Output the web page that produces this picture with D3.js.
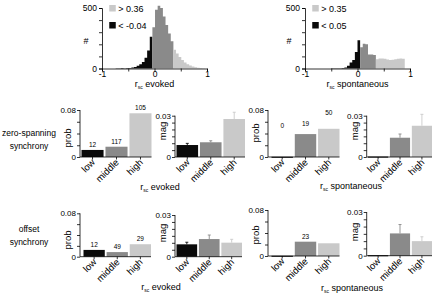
<!DOCTYPE html>
<html>
<head>
<meta charset="utf-8">
<script src="https://cdn.jsdelivr.net/npm/d3@7"></script>
<style>
  body { margin: 0; background: #fff; }
  svg { display: block; font-family: "Liberation Sans", Arial, sans-serif; }
</style>
</head>
<body>
<svg id="chart" width="435" height="297"></svg>
<script>
// ---- histogram data (bin left edges, width 0.05) ----
const binWidth = 0.05;
const evokedEdges = [-0.89,-0.84,-0.79,-0.74,-0.69,-0.64,-0.59,-0.54,-0.49,-0.44,-0.39,-0.34,-0.29,-0.24,-0.19,-0.14,-0.09,
  -0.04,0.01,0.06,0.11,0.16,0.21,0.26,0.31,
  0.36,0.41,0.46,0.51,0.56,0.61,0.66,0.71,0.76,0.81,0.86,0.91];
const evokedCounts = [0,0,1,2,3,4,3,4,5,8,13,22,35,54,89,149,262,
  340,485,518,500,430,360,290,225,
  155,125,95,70,50,35,25,16,11,7,4,2];
const evokedCuts = [-0.04, 0.36];

const spontEdges = [-0.95,-0.9,-0.85,-0.8,-0.75,-0.7,-0.65,-0.6,-0.55,-0.5,-0.45,-0.4,-0.35,-0.3,-0.25,-0.2,-0.15,-0.1,-0.05,0.0,
  0.05,0.1,0.15,0.2,0.25,0.3,
  0.35,0.4,0.45,0.5,0.55,0.6,0.65,0.7,0.75,0.8,0.85];
const spontCounts = [1,1,1,1,1,1,1,1,1,2,2,2,3,4,8,23,50,71,137,234,
  175,205,200,115,115,112,
  76,82,82,80,75,70,72,76,80,82,80];
const spontCuts = [0.05, 0.35];

// ---- bar data ----
const groups = ["low", "middle", "high"];

const zeroProbEvoked = [0.012, 0.0175, 0.0744];
const zeroProbEvokedN = ["12", "117", "105"];
const zeroMagEvoked = [0.0087, 0.0107, 0.0276];
const zeroMagEvokedErr = [0.0012, 0.0011, 0.0049];
const zeroProbSpont = [0.0004, 0.039, 0.048];
const zeroProbSpontN = ["0", "19", "50"];
const zeroProbSpontNAt = [0.050, 0.053, 0.0715];
const zeroMagSpont = [0.0003, 0.014, 0.0227];
const zeroMagSpontErr = [0, 0.0027, 0.0083];

const offProbEvoked = [0.0125, 0.0085, 0.023];
const offProbEvokedN = ["12", "49", "29"];
const offMagEvoked = [0.0089, 0.0127, 0.0101];
const offMagEvokedErr = [0.0015, 0.0029, 0.0024];
const offProbSpont = [0.0004, 0.0249, 0.0221];
const offProbSpontN = ["", "23", ""];
const offMagSpont = [0.0003, 0.0153, 0.010];
const offMagSpontErr = [0, 0.0061, 0.003];

const cBlack = "#0a0a0a", cMid = "#8a8a8a", cLight = "#c9c9c9";
const barColors = [cBlack, cMid, cLight];

const svg = d3.select("#chart");

// ---------- histograms ----------
function drawHist(edges, counts, cuts, x0, x1, legend, label) {
  const x = d3.scaleLinear().domain([-1, 1]).range([x0, x1]);
  const y = d3.scaleLinear().domain([0, 500]).range([68.5, 8]);
  const g = svg.append("g");

  // split bins into the three colour classes, each drawn as one stepped area
  const cls = e => e < cuts[0] - 1e-9 ? 0 : (e < cuts[1] - 1e-9 ? 1 : 2);
  const area = d3.area().curve(d3.curveStepAfter)
    .x(d => x(d.e)).y0(y(0)).y1(d => y(d.c));
  [cBlack, cMid, cLight].forEach((col, k) => {
    const pts = [];
    edges.forEach((e, i) => { if (cls(e) == k) pts.push({e: e, c: counts[i]}); });
    if (!pts.length) return;
    pts.push({e: pts[pts.length - 1].e + binWidth, c: pts[pts.length - 1].c});
    g.append("path").attr("d", area(pts)).attr("fill", col);
  });

  const ya = g.append("g").attr("transform", "translate(" + x0 + ",0)")
    .call(d3.axisLeft(y).tickValues([0, 100, 200, 300, 400, 500]).tickSize(3)
      .tickFormat(d => (d == 0 || d == 500) ? d : ""));
  const xa = g.append("g").attr("transform", "translate(0," + y(0) + ")")
    .call(d3.axisBottom(x).tickValues([-1, -0.5, 0, 0.5, 1]).tickSize(3)
      .tickFormat(d => Number.isInteger(d) ? d : ""));
  [ya, xa].forEach(a => {
    a.select(".domain").attr("stroke", "#000").attr("stroke-width", 0.8);
    a.selectAll(".tick line").attr("stroke-width", 0.8);
    a.selectAll("text").attr("font-size", 8.5).attr("font-family", "Liberation Sans, Arial");
  });
  ya.selectAll("text").attr("x", -5);
  xa.selectAll("text").attr("y", 2.5);

  g.append("text").attr("x", x0 - 16).attr("y", 44).attr("font-size", 9).attr("text-anchor", "middle").text("#");

  // legend
  const lx = x(-0.9) + 2;
  legend.forEach((t, i) => {
    g.append("rect").attr("x", lx).attr("y", 5 + i * 17).attr("width", 6.5).attr("height", 6.5)
      .attr("fill", i == 0 ? cLight : cBlack);
    g.append("text").attr("x", lx + 9).attr("y", 12 + i * 17).attr("font-size", 9).text(t);
  });

  const t = g.append("text").attr("x", x(0)).attr("y", 87).attr("text-anchor", "middle").attr("font-size", 9);
  t.append("tspan").text("r");
  t.append("tspan").attr("font-size", 5).attr("dy", 2).text("sc");
  t.append("tspan").attr("dy", -2).text(" " + label);
}

drawHist(evokedEdges, evokedCounts, evokedCuts, 102, 207, ["> 0.36", "< -0.04"], "evoked");
drawHist(spontEdges, spontCounts, spontCuts, 305, 410, ["> 0.35", "< 0.05"], "spontaneous");

// ---------- bar panels ----------
function drawBars(p) {
  const g = svg.append("g");
  const x = d3.scaleBand().domain(groups).range([p.b0, p.b1]).paddingInner(0.08);
  const y = d3.scaleLinear().domain([0, p.max]).range([p.bottom, p.top]);

  g.selectAll("rect.bar").data(p.values).enter().append("rect")
    .attr("class", "bar")
    .attr("x", (d, i) => x(groups[i]))
    .attr("width", x.bandwidth())
    .attr("y", d => y(d))
    .attr("height", d => Math.max(1, y(0) - y(d)))
    .attr("fill", (d, i) => barColors[i]);

  if (p.err) {
    p.err.forEach((e, i) => {
      if (e <= 0) return;
      const cx = x(groups[i]) + x.bandwidth() / 2;
      g.append("line").attr("x1", cx).attr("x2", cx)
        .attr("y1", y(p.values[i])).attr("y2", y(p.values[i] + e))
        .attr("stroke", barColors[i]).attr("stroke-width", 0.9);
      g.append("line").attr("x1", cx - 1.5).attr("x2", cx + 1.5)
        .attr("y1", y(p.values[i] + e)).attr("y2", y(p.values[i] + e))
        .attr("stroke", barColors[i]).attr("stroke-width", 0.9);
    });
  }

  if (p.n) {
    p.n.forEach((t, i) => {
      const at = p.nAt ? y(p.nAt[i]) : y(p.values[i]) - 3;
      g.append("text").attr("x", x(groups[i]) + x.bandwidth() / 2).attr("y", at)
        .attr("text-anchor", "middle").attr("font-size", 6.5).attr("fill", "#000").text(t);
    });
  }

  const ya = g.append("g").attr("transform", "translate(" + p.ax + ",0)")
    .call(d3.axisLeft(y).tickValues(d3.range(0, p.max + p.step / 2, p.step)).tickSize(3)
      .tickFormat(d => (d == 0 || Math.abs(d - p.max) < 1e-9) ? (d == 0 ? "0" : p.maxLabel) : ""));
  ya.select(".domain").attr("stroke-width", 0.8).attr("d", "M0," + p.top + "V" + p.bottom);
  ya.selectAll(".tick line").attr("stroke-width", 0.8);
  ya.selectAll("text").attr("font-size", 8).attr("x", -4);

  g.append("line").attr("x1", p.ax).attr("x2", p.b1).attr("y1", p.bottom).attr("y2", p.bottom)
    .attr("stroke", "#000").attr("stroke-width", 0.8);
  groups.forEach(gr => {
    const cx = x(gr) + x.bandwidth() / 2;
    g.append("line").attr("x1", cx).attr("x2", cx).attr("y1", p.bottom).attr("y2", p.bottom + 2.5)
      .attr("stroke", "#000").attr("stroke-width", 0.8);
    g.append("text").attr("text-anchor", "end").attr("font-size", 9.5)
      .attr("transform", "translate(" + (cx + 3) + "," + (p.bottom + 6) + ") rotate(-45)")
      .text(gr);
  });

  g.append("text").attr("text-anchor", "middle").attr("font-size", 9.5)
    .attr("transform", "translate(" + (p.ax - 9) + "," + p.labelY + ") rotate(-90)")
    .text(p.name);
}

const panels = [
  {values: zeroProbEvoked, n: zeroProbEvokedN, ax: 80, b0: 81.5, b1: 151.5, top: 110, bottom: 157, max: 0.08, step: 0.02, maxLabel: "0.08", name: "prob", labelY: 138},
  {values: zeroMagEvoked, err: zeroMagEvokedErr, ax: 175, b0: 176.5, b1: 245, top: 115.7, bottom: 157, max: 0.03, step: 0.005, maxLabel: "0.03", name: "mag", labelY: 131},
  {values: zeroProbSpont, n: zeroProbSpontN, nAt: zeroProbSpontNAt, ax: 268, b0: 271.5, b1: 339.5, top: 110, bottom: 157, max: 0.08, step: 0.02, maxLabel: "0.08", name: "prob", labelY: 133},
  {values: zeroMagSpont, err: zeroMagSpontErr, ax: 366.7, b0: 368, b1: 432, top: 115.7, bottom: 157, max: 0.03, step: 0.005, maxLabel: "0.03", name: "mag", labelY: 131},
  {values: offProbEvoked, n: offProbEvokedN, ax: 80, b0: 83.5, b1: 151, top: 213.3, bottom: 256.7, max: 0.08, step: 0.02, maxLabel: "0.08", name: "prob", labelY: 240},
  {values: offMagEvoked, err: offMagEvokedErr, ax: 175, b0: 176.5, b1: 242, top: 215, bottom: 256.7, max: 0.03, step: 0.005, maxLabel: "0.03", name: "mag", labelY: 233},
  {values: offProbSpont, n: offProbSpontN, ax: 268, b0: 271.5, b1: 339.5, top: 210, bottom: 256, max: 0.08, step: 0.02, maxLabel: "0.08", name: "prob", labelY: 235},
  {values: offMagSpont, err: offMagSpontErr, ax: 366.7, b0: 368, b1: 432, top: 212, bottom: 255.7, max: 0.03, step: 0.005, maxLabel: "0.03", name: "mag", labelY: 232}
];
panels.forEach(drawBars);

// row labels
[["zero-spanning", "synchrony", 136], ["offset", "synchrony", 232]].forEach(r => {
  const t = svg.append("text").attr("text-anchor", "middle").attr("font-size", 8.5);
  t.append("tspan").attr("x", 29).attr("y", r[2]).text(r[0]);
  t.append("tspan").attr("x", 29).attr("y", r[2] + 12.5).text(r[1]);
});

// bottom x labels
function rscLabel(cx, cy, label) {
  const t = svg.append("text").attr("x", cx).attr("y", cy).attr("text-anchor", "middle").attr("font-size", 9);
  t.append("tspan").text("r");
  t.append("tspan").attr("font-size", 5).attr("dy", 2).text("sc");
  t.append("tspan").attr("dy", -2).text(" " + label);
}
rscLabel(160, 190, "evoked");
rscLabel(351, 189, "spontaneous");
rscLabel(161, 290, "evoked");
rscLabel(352, 291, "spontaneous");
</script>
</body>
</html>
